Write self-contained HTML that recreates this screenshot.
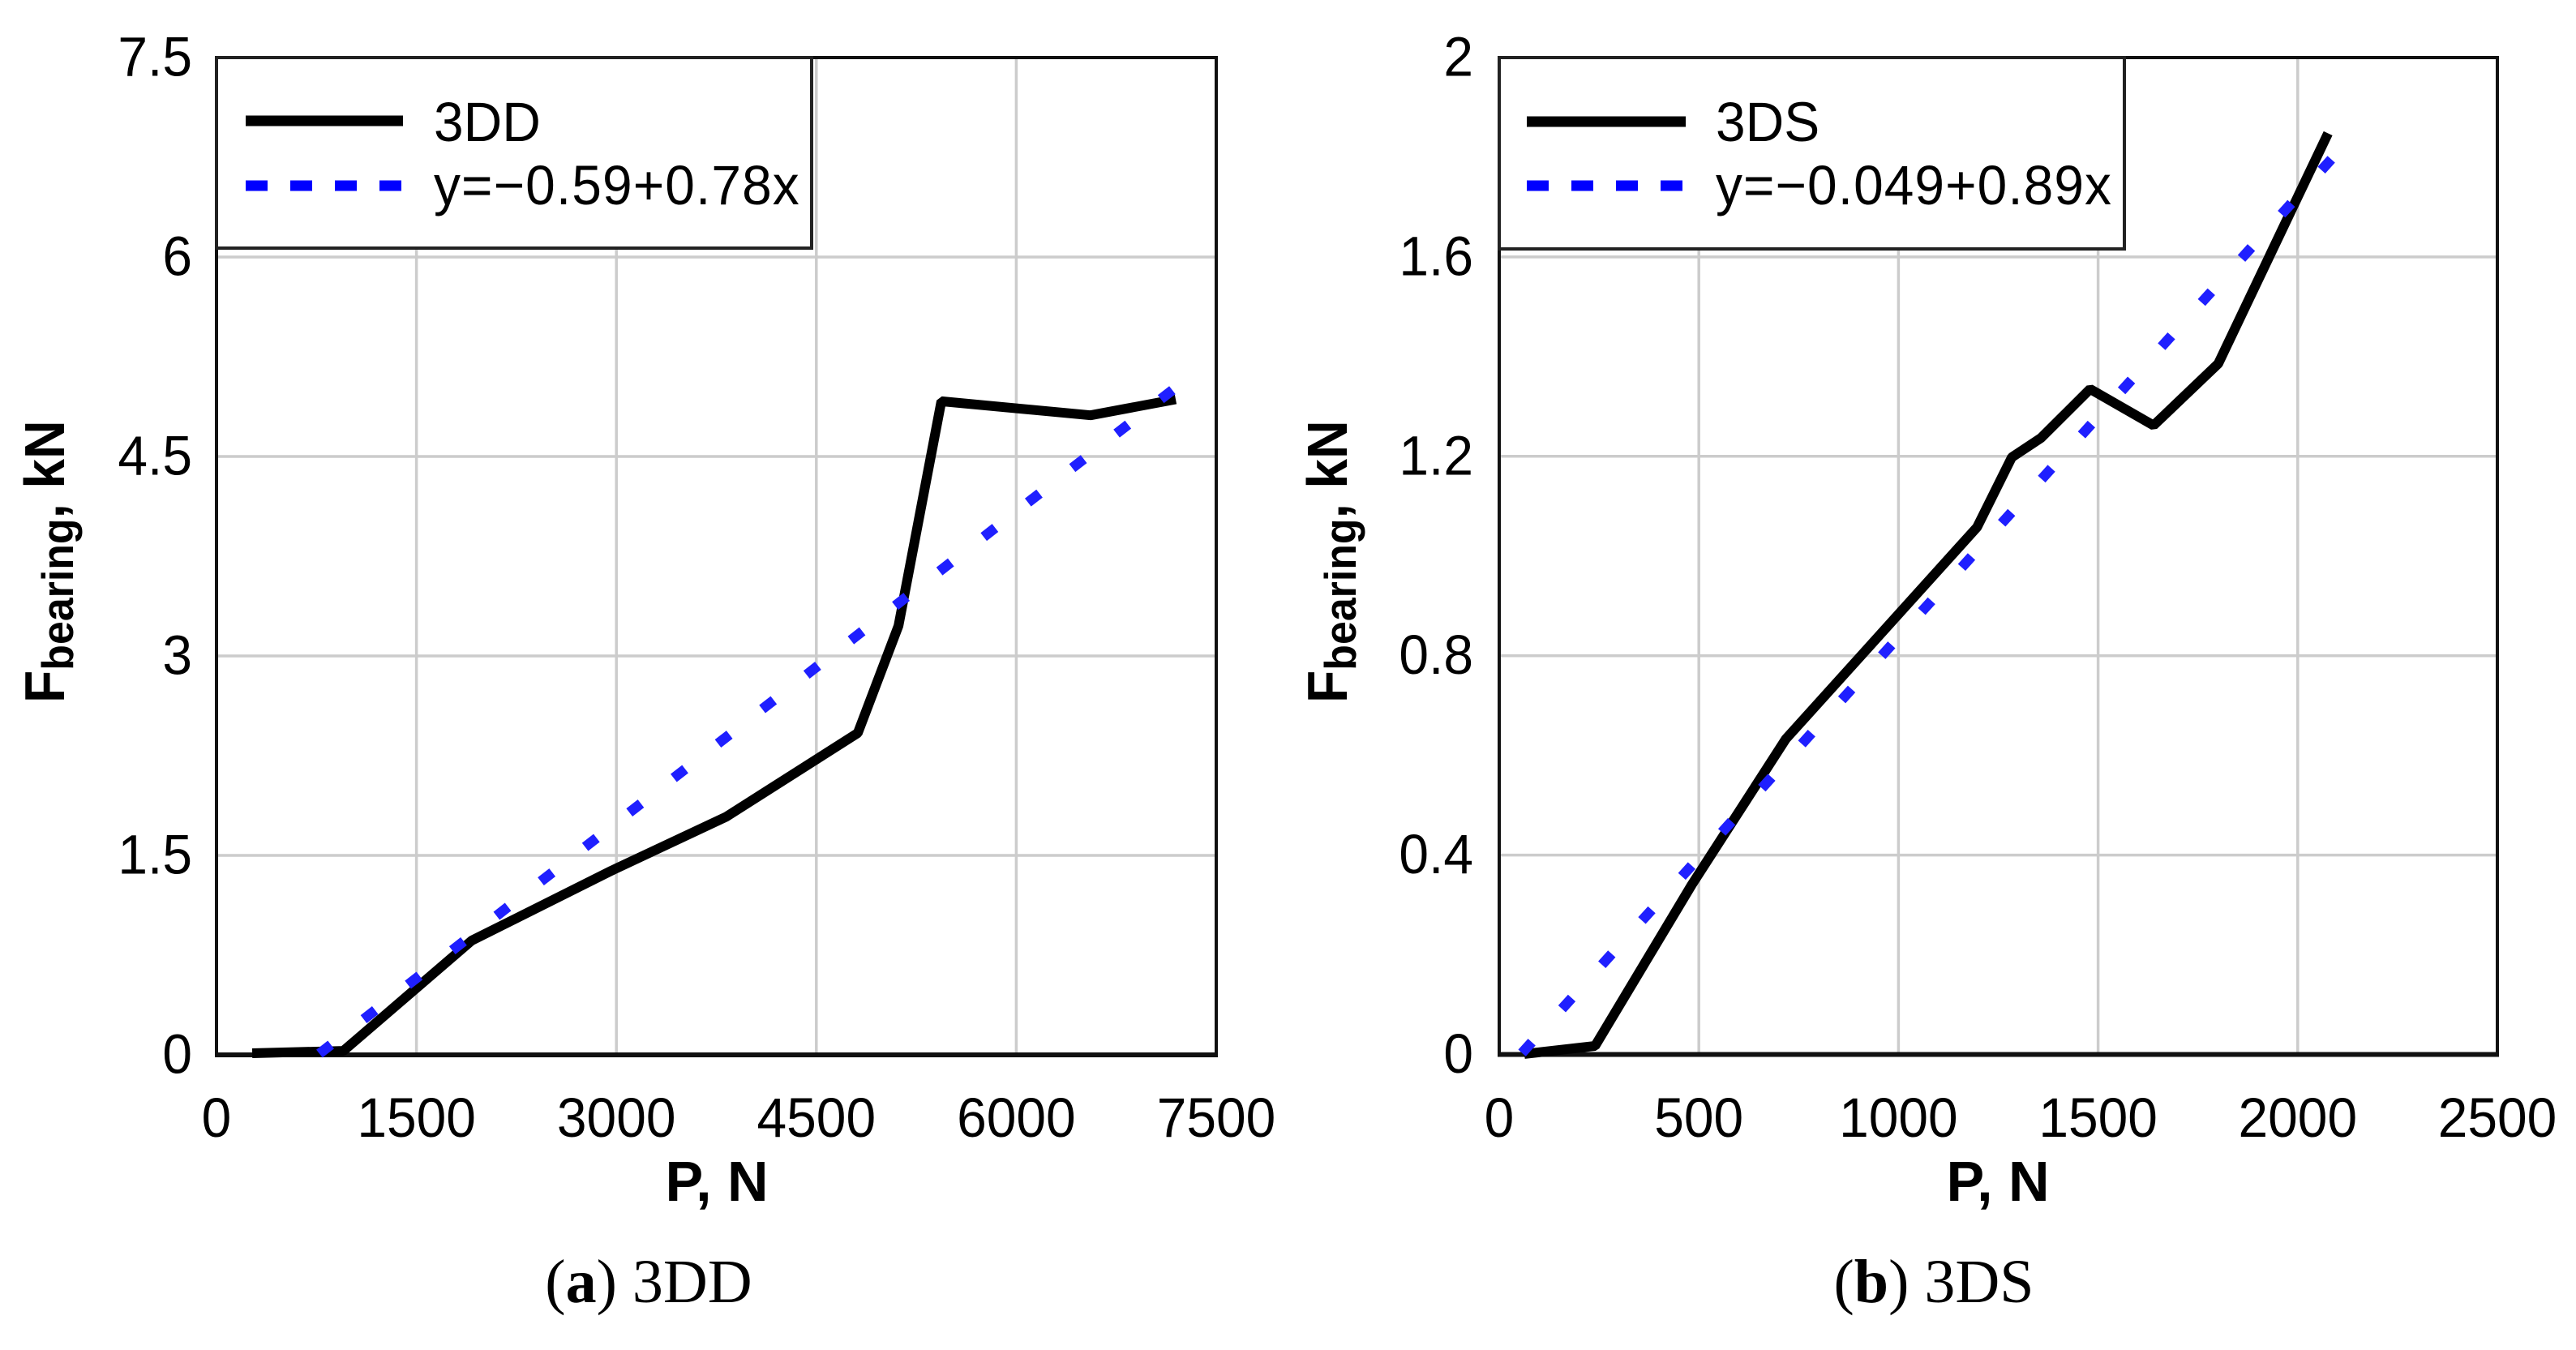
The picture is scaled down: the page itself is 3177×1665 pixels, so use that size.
<!DOCTYPE html>
<html lang="en">
<head>
<meta charset="utf-8">
<title>Bearing force vs P: 3DD and 3DS</title>
<style>
  html, body { margin: 0; padding: 0; background: #fff; }
  svg { display: block; }
  text { font-family: "Liberation Sans", sans-serif; fill: #000; }
  .tick { font-size: 69px; }
  .axis-title { font-size: 70px; font-weight: bold; }
  .caption { font-family: "Liberation Serif", serif; font-size: 76px; }
</style>
</head>
<body>
<svg id="figure" xmlns="http://www.w3.org/2000/svg" width="3177" height="1665" viewBox="0 0 3177 1665">
  <rect x="0" y="0" width="3177" height="1665" fill="#fff"/>
  <g id="chart-a"></g>
  <g id="chart-b"></g>

  <text class="axis-title" transform="translate(884 1481)" text-anchor="middle">P, N</text>
  <text class="axis-title" transform="translate(79 867) rotate(-90) scale(.943 1)">F<tspan font-size="55" dy="11">bearing</tspan><tspan dy="-11">, kN</tspan></text>
  <text class="caption" x="800" y="1606" text-anchor="middle">(<tspan font-weight="bold">a</tspan>) 3DD</text>

  <text class="axis-title" transform="translate(2464 1481)" text-anchor="middle">P, N</text>
  <text class="axis-title" transform="translate(1661 867) rotate(-90) scale(.943 1)">F<tspan font-size="55" dy="11">bearing</tspan><tspan dy="-11">, kN</tspan></text>
  <text class="caption" x="2385" y="1606" text-anchor="middle">(<tspan font-weight="bold">b</tspan>) 3DS</text>

  <g>
    <rect x="267" y="71" width="734" height="235" fill="#fff" stroke="#222" stroke-width="4"/>
    <line x1="303" y1="149" x2="497" y2="149" stroke="#000" stroke-width="13"/>
    <text class="tick" transform="translate(535 174) scale(.955 1)">3DD</text>
    <line x1="303" y1="229" x2="497" y2="229" stroke="#0000ff" stroke-width="13" stroke-dasharray="27 28"/>
    <text class="tick" transform="translate(535 252) scale(.955 1)" textLength="472" lengthAdjust="spacing">y=−0.59+0.78x</text>
  </g>
  <g>
    <rect x="1849" y="71" width="771" height="236" fill="#fff" stroke="#222" stroke-width="4"/>
    <line x1="1883" y1="150" x2="2079" y2="150" stroke="#000" stroke-width="13"/>
    <text class="tick" transform="translate(2116 174) scale(.955 1)">3DS</text>
    <line x1="1883" y1="229" x2="2079" y2="229" stroke="#0000ff" stroke-width="13" stroke-dasharray="27 28"/>
    <text class="tick" transform="translate(2116 252) scale(.955 1)" textLength="511" lengthAdjust="spacing">y=−0.049+0.89x</text>
  </g>
</svg>
<script>
// Chart (a) 3DD data
const xTicksA = [0, 1500, 3000, 4500, 6000, 7500];
const yTicksA = [0, 1.5, 3, 4.5, 6, 7.5];
const yTickLabelsA = ["0", "1.5", "3", "4.5", "6", "7.5"];
const measuredPA = [268, 952, 1915, 2962, 3823, 4811, 5116, 5438, 6557, 7196];
const measuredFA = [0.012, 0.03, 0.86, 1.385, 1.79, 2.42, 3.226, 4.915, 4.81, 4.93];
const fitPA = [772, 7172];
const fitFA = [0.009, 5.0];

// Chart (b) 3DS data
const xTicksB = [0, 500, 1000, 1500, 2000, 2500];
const yTicksB = [0, 0.4, 0.8, 1.2, 1.6, 2];
const yTickLabelsB = ["0", "0.4", "0.8", "1.2", "1.6", "2"];
const measuredPB = [63, 240, 482, 718, 1197, 1284, 1357, 1480, 1639, 1801, 2076];
const measuredFB = [0.001, 0.017, 0.34, 0.633, 1.058, 1.198, 1.237, 1.335, 1.262, 1.386, 1.848];
const fitPB = [57, 2084];
const fitFB = [0.003, 1.796];

const SVG_NS = "http://www.w3.org/2000/svg";

function makeEl(parent, tag, attrs) {
  const el = document.createElementNS(SVG_NS, tag);
  for (const k in attrs) el.setAttribute(k, attrs[k]);
  parent.appendChild(el);
  return el;
}

function polyPoints(xs, ys, sx, sy) {
  return xs.map((v, i) => sx(v).toFixed(1) + "," + sy(ys[i]).toFixed(1)).join(" ");
}

function drawChart(root, cfg) {
  const sx = v => cfg.left + (v - cfg.xTicks[0]) / (cfg.xTicks[cfg.xTicks.length - 1] - cfg.xTicks[0]) * (cfg.right - cfg.left);
  const sy = v => cfg.bottom - (v - cfg.yTicks[0]) / (cfg.yTicks[cfg.yTicks.length - 1] - cfg.yTicks[0]) * (cfg.bottom - cfg.top);

  cfg.xTicks.forEach((t, i) => {
    if (i > 0 && i < cfg.xTicks.length - 1) {
      const g = makeEl(root, "line", { x1: sx(t), x2: sx(t), y1: cfg.top, y2: cfg.bottom, stroke: "#cccccc", "stroke-width": 3.5 });
      
      
    }
    const lab = makeEl(root, "text", { transform: "translate(" + sx(t) + " 1402) scale(.955 1)", "text-anchor": "middle", class: "tick" });
    lab.textContent = String(t);
    
    
  });

  cfg.yTicks.forEach((t, i) => {
    if (i > 0 && i < cfg.yTicks.length - 1) {
      const g = makeEl(root, "line", { x1: cfg.left, x2: cfg.right, y1: sy(t), y2: sy(t), stroke: "#cccccc", "stroke-width": 3.5 });
      
      
    }
    const lab = makeEl(root, "text", { transform: "translate(" + cfg.labelRight + " " + (sy(t) + 22.5) + ") scale(.955 1)", "text-anchor": "end", class: "tick" });
    lab.textContent = cfg.yLabels[i];
    
    
  });

  const frame = makeEl(root, "path", {
    d: "M" + cfg.left + " " + cfg.bottom + "V" + cfg.top + "H" + cfg.right + "V" + cfg.bottom,
    fill: "none", stroke: "#111", "stroke-width": 4
  });
  
  

  const baseline = makeEl(root, "line", { x1: cfg.left - 2, x2: cfg.right + 2, y1: cfg.bottom, y2: cfg.bottom, stroke: "#111", "stroke-width": 6 });
  
  

  const measured = makeEl(root, "polyline", {
    points: polyPoints(cfg.measuredP, cfg.measuredF, sx, sy),
    fill: "none", stroke: "#000", "stroke-width": 12, "stroke-linejoin": "bevel"
  });
  
  

  const fit = makeEl(root, "polyline", {
    points: polyPoints(cfg.fitP, cfg.fitF, sx, sy),
    fill: "none", stroke: "#1f1fff", "stroke-width": 12.5, "stroke-dasharray": cfg.dash
  });
  
  
}

const chartA = document.getElementById("chart-a");
const chartB = document.getElementById("chart-b");

drawChart(chartA, {
  left: 267, right: 1500, top: 71, bottom: 1301, labelRight: 237,
  xTicks: xTicksA, yTicks: yTicksA, yLabels: yTickLabelsA,
  measuredP: measuredPA, measuredF: measuredFA,
  fitP: fitPA, fitF: fitFA, dash: "18 51.2"
});

drawChart(chartB, {
  left: 1849, right: 3080, top: 71, bottom: 1300.5, labelRight: 1817,
  xTicks: xTicksB, yTicks: yTicksB, yLabels: yTickLabelsB,
  measuredP: measuredPB, measuredF: measuredFB,
  fitP: fitPB, fitF: fitFB, dash: "18 55.45"
});
</script>
</body>
</html>
